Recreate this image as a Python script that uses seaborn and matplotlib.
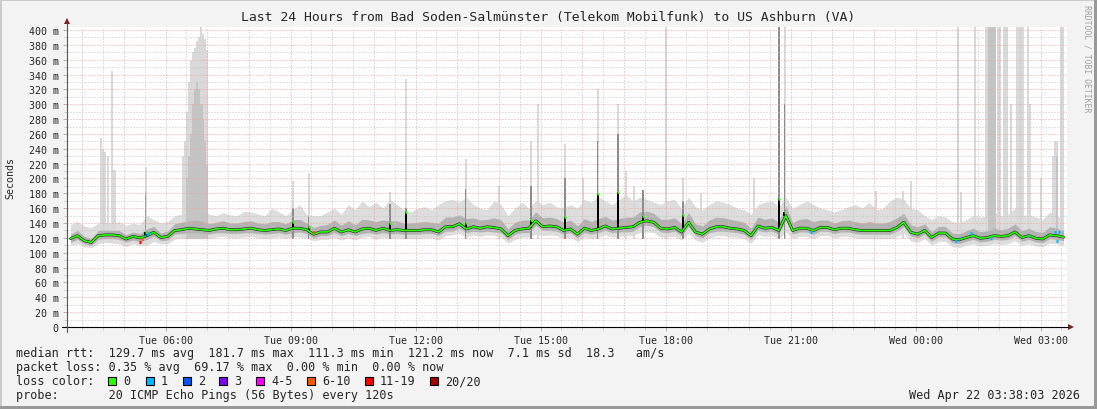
import numpy as np
import pandas as pd
import matplotlib
matplotlib.use("Agg")
import matplotlib.pyplot as plt
import matplotlib.dates as mdates
from matplotlib.patches import Rectangle, Polygon
from matplotlib.ticker import FuncFormatter, MultipleLocator
import seaborn as sns

# style
sns.set_style("white")
plt.rcParams["font.family"] = ["DejaVu Sans Mono", "DejaVu Sans"]

START = pd.Timestamp("2026-04-21 03:38")
END = START + pd.Timedelta(hours=24)

# median rtt (ms), one value per 10 minutes
median = [
    119, 123, 116, 114, 123, 124, 124, 123, 118.5, 122, 120, 123,
    127.5, 120.5, 122, 130, 131, 133, 132, 131, 130, 132, 133, 131,
    131, 132, 133, 131, 130, 131, 132, 130, 133, 133, 131, 125,
    128, 128, 133, 128, 131, 128, 132, 133, 130, 133, 130, 131,
    130, 130, 130, 131, 131, 128, 135, 135, 139, 132, 135, 133,
    135, 134, 132, 123, 130, 132, 133, 143, 135, 136, 135, 130,
    132, 125, 133, 130, 132, 136, 132, 133, 134, 135, 141, 143,
    141, 133, 132, 134, 128, 141, 128, 125, 132, 135, 135, 133,
    132, 130, 123, 136, 133, 134, 130, 150, 130, 133, 133, 130,
    134, 134, 131, 133, 133, 131, 130, 130, 130, 130, 130, 134,
    141, 127.5, 125, 130, 120.5, 126.5, 126.5, 118.5, 117.5, 120.5, 123, 119.5,
    120.5, 123, 122, 123, 128, 120.5, 123, 119.5, 118.5, 124, 123, 121,
]

# outer smoke (slowest / fastest ping), ms
smoke_hi = [
    138, 142, 136, 134, 140, 141, 140, 142, 137, 140, 138, 150,
    145, 140, 142, 150, 152, 155, 160, 158, 152, 150, 154, 151,
    150, 156, 155, 152, 150, 160, 155, 150, 158, 165, 152, 150,
    150, 155, 160, 152, 165, 158, 170, 162, 168, 160, 172, 165,
    158, 155, 160, 162, 158, 165, 170, 172, 168, 175, 165, 160,
    158, 170, 165, 150, 160, 168, 160, 170, 165, 168, 162, 160,
    165, 160, 172, 168, 175, 170, 165, 172, 178, 170, 175, 172,
    168, 165, 170, 172, 160, 175, 162, 158, 165, 170, 168, 165,
    160, 158, 152, 165, 168, 170, 162, 175, 160, 165, 170, 165,
    160, 158, 155, 158, 162, 165, 160, 168, 158, 160, 170, 175,
    172, 160, 158, 150, 145, 150, 148, 142, 140, 145, 150, 148,
    150, 155, 150, 152, 160, 150, 152, 148, 145, 155, 150, 145,
]
smoke_lo = [
    110, 112, 108, 107, 112, 114, 113, 112, 108, 112, 110, 110,
    115, 112, 112, 118, 120, 122, 121, 120, 119, 121, 122, 120,
    120, 121, 122, 120, 119, 120, 121, 119, 122, 121, 120, 116,
    118, 118, 121, 117, 120, 117, 121, 122, 118, 121, 119, 120,
    119, 119, 119, 120, 120, 117, 123, 124, 126, 121, 124, 122,
    124, 123, 121, 113, 118, 121, 121, 125, 123, 124, 123, 119,
    121, 115, 121, 119, 121, 124, 121, 122, 123, 123, 127, 128,
    127, 121, 121, 122, 117, 126, 117, 114, 120, 123, 123, 121,
    121, 119, 113, 124, 122, 123, 119, 128, 119, 122, 122, 119,
    123, 123, 120, 122, 122, 120, 119, 119, 119, 119, 119, 122,
    126, 116, 114, 119, 110, 115, 115, 108, 107, 110, 112, 109,
    110, 112, 111, 112, 116, 110, 112, 109, 108, 113, 112, 110,
]

# inner smoke, ms above / below the median
band_above = [
    6, 7, 6, 5, 7, 6, 6, 7, 6, 6, 6, 9,
    8, 6, 7, 9, 10, 10, 12, 11, 9, 9, 10, 9,
    9, 10, 10, 9, 9, 11, 10, 9, 11, 12, 9, 9,
    9, 10, 11, 9, 12, 10, 13, 11, 12, 11, 13, 12,
    10, 10, 11, 11, 10, 12, 13, 13, 12, 14, 12, 11,
    10, 13, 12, 9, 11, 12, 11, 12, 12, 12, 11, 11,
    12, 11, 13, 12, 14, 13, 12, 13, 14, 13, 14, 13,
    12, 12, 13, 13, 11, 13, 11, 11, 12, 13, 12, 12,
    11, 11, 10, 12, 12, 13, 11, 13, 11, 12, 13, 12,
    10, 10, 9, 10, 11, 11, 10, 12, 10, 10, 12, 13,
    12, 10, 10, 9, 8, 9, 9, 8, 8, 9, 10, 9,
    9, 10, 9, 10, 11, 9, 10, 9, 9, 11, 10, 9,
]
band_below = [
    5, 5, 4, 4, 5, 5, 5, 5, 4, 5, 5, 5,
    5, 4, 5, 5, 5, 6, 5, 5, 5, 5, 6, 5,
    5, 5, 6, 5, 5, 5, 5, 5, 6, 5, 5, 5,
    5, 5, 6, 5, 5, 5, 6, 6, 5, 6, 5, 5,
    5, 5, 5, 5, 5, 5, 6, 6, 6, 5, 6, 5,
    6, 6, 5, 5, 5, 5, 6, 6, 5, 6, 6, 5,
    5, 5, 6, 5, 5, 6, 5, 5, 6, 6, 6, 6,
    6, 5, 5, 5, 5, 6, 5, 5, 5, 6, 6, 5,
    5, 5, 5, 6, 5, 5, 5, 6, 5, 5, 5, 5,
    5, 5, 5, 5, 5, 5, 5, 5, 5, 5, 5, 5,
    6, 5, 5, 5, 5, 5, 5, 5, 5, 5, 5, 5,
    5, 5, 5, 5, 5, 5, 5, 5, 5, 5, 5, 5,
]

# single slow pings (minutes after start, ms)
light_spike_min = [47, 50, 53, 58, 63, 66, 68, 112,
                   166, 168, 171, 174, 177, 180, 183, 186, 189, 192, 194, 197, 200,
                   324, 347, 464, 487, 573, 621, 667, 677, 716, 742, 763, 792,
                   804, 815, 828, 861, 886, 912, 988, 1024, 1032,
                   1163, 1189, 1202, 1214, 1282, 1286, 1306,
                   1322, 1325, 1328, 1331, 1335, 1339, 1342,
                   1348, 1350, 1352, 1358, 1366, 1369, 1372, 1375, 1382, 1385,
                   1401, 1418, 1421, 1424, 1430, 1433]
light_spike_top = [255, 240, 236, 230, 345, 211, 211, 215,
                   230, 250, 290, 330, 358, 370, 376, 385, 390, 405, 395, 388, 373,
                   197, 208, 182, 334, 226, 190, 250, 300, 246, 200, 320, 300,
                   210, 190, 185, 405, 200, 180, 200, 405, 405,
                   183, 170, 183, 197, 405, 182, 405,
                   405, 405, 405, 405, 405, 405, 405,
                   405, 405, 405, 300, 405, 405, 405, 405, 405, 300,
                   200, 230, 250, 250, 405, 405]

mid_spike_min = [171, 174, 177, 180, 183, 186, 189, 192, 194, 197, 200,
                 1326, 1329, 1332, 1335, 1424]
mid_spike_top = [200, 230, 260, 300, 320, 330, 320, 300, 280, 250, 220,
                 405, 405, 405, 405, 230]

dark_spike_min = [112, 324, 347, 464, 487, 573, 667, 716, 763, 792, 828, 886, 1024, 1032]
dark_spike_top = [180, 160, 150, 165, 160, 186, 190, 200, 250, 260, 185, 170, 405, 300]
dark_spike_med = [128, 141, 135, 140, 155, 140, 144.5, 148, 179, 182, 150, 151, 172, 155]

# lost pings (minutes after start, lost of 20, median ms)
loss_min = [104, 107, 112, 115, 354, 1070, 1279, 1284, 1300, 1329, 1382, 1421, 1424, 1427]
loss_cnt = [14, 8, 2, 1, 7, 1, 1, 1, 1, 1, 1, 1, 1, 1]
loss_val = [114, 118, 124, 126, 127.5, 128, 116, 120.5, 126, 119.5, 123, 127.5, 116, 127.5]

loss_labels = ["0", "1", "2", "3", "4-5", "6-10", "11-19", "20/20"]
loss_colors = ["#26ff00", "#00b8ff", "#0059ff", "#7e00ff", "#ff00ff", "#ff5500", "#ff0000", "#a00000"]

title = "Last 24 Hours from Bad Soden-Salmünster (Telekom Mobilfunk) to US Ashburn (VA)"
rtt_line = "median rtt:  129.7 ms avg  181.7 ms max  111.3 ms min  121.2 ms now  7.1 ms sd  18.3   am/s"
loss_line = "packet loss: 0.35 % avg  69.17 % max  0.00 % min  0.00 % now"
probe_line = "probe:       20 ICMP Echo Pings (56 Bytes) every 120s"
stamp = "Wed Apr 22 03:38:03 2026"


def loss_color(n):
    bins = [0, 1, 2, 3, 5, 10, 19, 20]
    for b, c in zip(bins, loss_colors):
        if n <= b:
            return c
    return loss_colors[-1]


# series sampled mid-interval
t = START + pd.to_timedelta(np.arange(len(median)) * 10 + 5, unit="m")
med = np.array(median, dtype=float)
hi = np.array(smoke_hi, dtype=float)
lo = np.array(smoke_lo, dtype=float)
up = med + np.array(band_above)
dn = med - np.array(band_below)

W, H = 1097, 410
fig = plt.figure(figsize=(W / 100, H / 100), dpi=100)
fig.patch.set_facecolor("#f3f3f3")

ax = fig.add_axes([67 / W, 82 / H, 1000 / W, 300 / H])
ax.set_facecolor("white")

ax.fill_between(t, lo, hi, color="#dddddd", lw=0, zorder=1)


def spikes(mins, tops, color, z, width=2.6):
    x = START + pd.to_timedelta(mins, unit="m")
    tops = np.array(tops, dtype=float)
    ax.bar(x, tops - 118, bottom=118, width=width / 1440, align="edge",
           color=color, lw=0, antialiased=False, zorder=z)


spikes(light_spike_min, light_spike_top, "#d9d9d9", 1.5, width=3.0)
spikes(mid_spike_min, mid_spike_top, "#c4c4c4", 1.6, width=3.2)
ax.fill_between(t, dn, up, color="#b2b2b2", lw=0, zorder=2)
spikes(dark_spike_min, dark_spike_top, "#8c8c8c", 2.5, width=2.2)

# median line
sns.lineplot(x=t, y=med, color="#1e1e1e", lw=2.0, ax=ax, zorder=6)
sns.lineplot(x=t, y=med, color=loss_colors[0], lw=1.2, ax=ax, zorder=7)

dx = START + pd.to_timedelta(dark_spike_min, unit="m")
base = [median[m // 10] for m in dark_spike_min]
ax.vlines(dx + pd.Timedelta(minutes=1), base, dark_spike_med, color="black", lw=1.4, zorder=6)
ax.hlines(dark_spike_med, dx, dx + pd.Timedelta(minutes=2.5), color=loss_colors[0], lw=1.8, zorder=7)

lx = START + pd.to_timedelta(loss_min, unit="m")
ax.hlines(loss_val, lx, lx + pd.Timedelta(minutes=2.5),
          color=[loss_color(n) for n in loss_cnt], lw=2.2, zorder=8)

# grid on top, like rrdtool
for v in range(10, 401, 10):
    major = v % 20 == 0
    ax.axhline(v, color="#f2a0a0" if major else "#c4c4c4", lw=0.72,
               ls=(0, (1, 2)), zorder=5)
for g in pd.date_range(START.ceil("30min"), END, freq="30min"):
    major = g.minute == 0
    ax.axvline(g, color="#f2a0a0" if major else "#c4c4c4", lw=0.72,
               ls=(0, (1, 2)), zorder=5)

ax.set_xlim(START, END)
ax.set_ylim(0, 404)
for s in ax.spines.values():
    s.set_visible(False)

ax.yaxis.set_major_locator(MultipleLocator(20))
ax.yaxis.set_minor_locator(MultipleLocator(10))
ax.yaxis.set_major_formatter(FuncFormatter(lambda v, _: "0" if v == 0 else f"{int(v)} m"))
ax.xaxis.set_major_locator(mdates.HourLocator(byhour=range(0, 24, 3)))
ax.xaxis.set_major_formatter(mdates.DateFormatter("%a %H:%M"))
ax.xaxis.set_minor_locator(mdates.MinuteLocator(byminute=[0, 30]))
ax.tick_params(axis="both", which="major", labelsize=7.2, length=3, width=0.7,
               color="#b0b0b0", pad=3, bottom=True, left=True)
ax.tick_params(axis="both", which="minor", length=2, width=0.7,
               color="#c8c8c8", bottom=True, left=True)
ax.set_xlabel("")
ax.set_ylabel("")

# overlay in pixel coordinates for frame, axes arrows and legend
ov = fig.add_axes([0, 0, 1, 1], zorder=10)
ov.set_xlim(0, W)
ov.set_ylim(H, 0)
ov.axis("off")
ov.patch.set_alpha(0)

ov.add_patch(Rectangle((0, 0), W, 2, color="#cbcbcb", lw=0))
ov.add_patch(Rectangle((0, 0), 2, H, color="#cbcbcb", lw=0))
ov.add_patch(Rectangle((0, H - 3), W, 3, color="#999999", lw=0))
ov.add_patch(Rectangle((W - 3, 0), 3, H, color="#999999", lw=0))

ov.plot([62, 1068], [328, 328], color="black", lw=0.8)
ov.plot([67, 67], [333, 24], color="#555555", lw=0.8)
ov.add_patch(Polygon([(1068, 325), (1068, 331), (1074, 328)], color="#7f1f1f", lw=0))
ov.add_patch(Polygon([(64, 25), (70, 25), (67, 19)], color="#7f1f1f", lw=0))

ov.text(548, 18, title, ha="center", va="center", fontsize=9.45)
ov.text(10, 178, "Seconds", rotation=90, ha="center", va="center", fontsize=7.2)
ov.text(1087, 59, "RRDTOOL / TOBI OETIKER", rotation=270, ha="center", va="center",
        fontsize=5.9, color="#a0a0a0")

ov.text(16, 354, rtt_line, ha="left", va="center", fontsize=8.5)
ov.text(16, 368, loss_line, ha="left", va="center", fontsize=8.5)
ov.text(16, 382, "loss color:", ha="left", va="center", fontsize=8.5)
box_x = [108, 146, 183, 219, 256, 307, 365, 430]
for bx, lab, col in zip(box_x, loss_labels, loss_colors):
    ov.add_patch(Rectangle((bx, 378), 8, 8, facecolor=col, edgecolor="black", lw=0.8))
    ov.text(bx + 15, 382, lab, ha="left", va="center", fontsize=8.5)
ov.text(16, 396, probe_line, ha="left", va="center", fontsize=8.5)
ov.text(1080, 396, stamp, ha="right", va="center", fontsize=8.5)

fig.savefig("out.png", dpi=100, facecolor=fig.get_facecolor())
